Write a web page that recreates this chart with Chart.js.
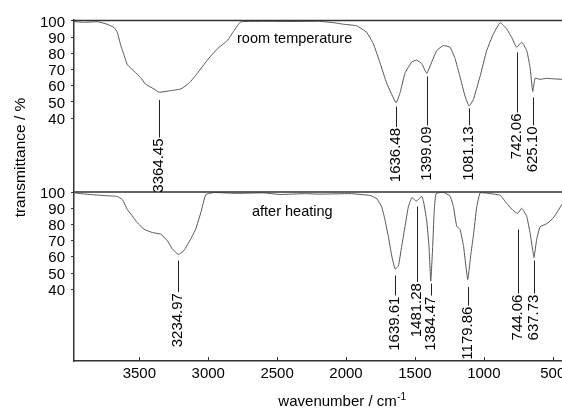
<!DOCTYPE html>
<html>
<head>
<meta charset="utf-8">
<script src="https://cdn.jsdelivr.net/npm/chart.js@4.4.1/dist/chart.umd.min.js"></script>
<style>
  html, body { margin: 0; padding: 0; background: #fff; overflow: hidden; }
  canvas { display: block; }
</style>
</head>
<body>
<canvas id="ir" width="600" height="409"></canvas>
<script>
// spectra: wavenumber (cm-1) and transmittance (%)
const roomWn = [3974, 3900, 3800, 3734, 3684, 3660, 3635, 3611, 3587, 3538, 3490, 3454, 3393, 3356, 3272, 3200, 3139, 3079, 3007, 2934, 2861, 2813, 2764, 2600, 2400, 2200, 2094, 2020, 1922, 1850, 1802, 1753, 1705, 1637, 1608, 1572, 1523, 1487, 1451, 1414, 1378, 1342, 1294, 1245, 1209, 1173, 1136, 1107, 1076, 1028, 979, 931, 882, 834, 798, 762, 725, 689, 665, 645, 628, 592, 543, 500, 433];
const roomT = [99.6, 99.2, 99.5, 98, 96, 93, 85, 79, 73, 69, 65, 61, 58, 56, 57, 58, 61.6, 67.7, 75.8, 82.8, 87.9, 94, 99.4, 99.8, 99.7, 99.8, 99, 98, 97, 93, 86, 74, 61.6, 49.5, 55.6, 67.7, 74.7, 75.8, 73.7, 67.7, 74.7, 81.8, 84.8, 83.8, 76.8, 65.6, 53.5, 47.5, 51.5, 65.6, 81.8, 91.9, 99, 95, 89.9, 83.8, 86.9, 81.8, 71.7, 56.5, 64.6, 64, 64.6, 64.3, 64];

const heatWn = [3974, 3900, 3829, 3732, 3660, 3623, 3587, 3551, 3515, 3466, 3406, 3345, 3297, 3261, 3217, 3176, 3127, 3091, 3054, 3018, 2958, 2800, 2600, 2479, 2300, 2189, 1971, 1826, 1777, 1741, 1717, 1693, 1668, 1644, 1620, 1596, 1572, 1548, 1523, 1499, 1487, 1451, 1439, 1415, 1398, 1385, 1371, 1361, 1347, 1294, 1245, 1221, 1197, 1173, 1148, 1117, 1095, 1076, 1051, 1027, 979, 882, 834, 786, 754, 725, 689, 665, 645, 636, 616, 592, 543, 496, 459, 433];
const heatT = [99.5, 98.8, 98.3, 97.7, 97.3, 95.3, 89.2, 85.2, 81.1, 77.1, 75, 74, 70, 65, 61.5, 63.9, 71, 77.1, 87.2, 98.3, 99.7, 99.2, 99.5, 98.5, 99, 98.7, 99, 97.9, 95.9, 90.8, 82.7, 72.6, 60.5, 52.5, 54.4, 66.5, 78.7, 90.8, 96.5, 95, 94.5, 97.3, 94.8, 82.7, 66.5, 45, 66.5, 86.8, 98.9, 99.9, 97.5, 91.2, 79, 77, 67, 46, 61, 73, 91, 99.5, 99.3, 98, 93, 88.5, 86.8, 90, 85, 75, 64, 59.5, 71, 78.5, 80.5, 84, 88.8, 92.5];

// marked peaks: where the marker sits on the axis, and the value printed beside it
const roomPeakWn = [3356, 1637, 1414, 1107, 762, 645];
const roomPeakText = ['3364.45', '1636.48', '1399.09', '1081.13', '742.06', '625.10'];
const heatPeakWn = [3217, 1644, 1487, 1385, 1117, 754, 636];
const heatPeakText = ['3234.97', '1639.61', '1481.28', '1384.47', '1179.86', '744.06', '637.73'];

const xTicks = [3500, 3000, 2500, 2000, 1500, 1000, 500];
const yTicks = [40, 50, 60, 70, 80, 90, 100];

// the upper spectrum is lifted by this much so both panels share one y axis
const OFFSET = 105.6;

// marker lines: start / end in px below each panel's 100 % line
const roomMarkTop = [79, 85.5, 55.5, 87.5, 31.5, 76.5];
const roomMarkEnd = [116.5, 106, 104.5, 104.5, 91.5, 104.5];
const heatMarkTop = [68.5, 83.5, 14.5, 91.5, 95, 37.5, 68.5];
const heatMarkEnd = [100, 103.5, 90, 103.5, 113.5, 101.5, 101.5];

const FONT = "'Liberation Sans', Arial, sans-serif";
const INK = '#222';

const toPoints = (wn, t, shift) => wn.map((w, i) => ({ x: w, y: t[i] + shift }));

const decor = {
    id: 'decor',
    afterDatasetsDraw(chart) {
        const { ctx, chartArea: a, scales: { x, y } } = chart;
        ctx.save();

        // frame top and the line between the panels
        ctx.strokeStyle = '#333';
        ctx.lineWidth = 1.5;
        [a.top + 0.5, y.getPixelForValue(100)].forEach(py => {
            ctx.beginPath();
            ctx.moveTo(a.left, py);
            ctx.lineTo(a.right, py);
            ctx.stroke();
        });

        // x ticks point into the plot
        ctx.lineWidth = 1;
        xTicks.forEach(v => {
            const px = Math.round(x.getPixelForValue(v)) + 0.5;
            ctx.beginPath();
            ctx.moveTo(px, a.bottom);
            ctx.lineTo(px, a.bottom - 4);
            ctx.stroke();
        });

        // peak markers with rotated values
        const marks = (wn, text, top, end, base) => {
            ctx.strokeStyle = INK;
            ctx.fillStyle = '#000';
            ctx.font = '15px ' + FONT;
            wn.forEach((w, i) => {
                const px = Math.round(x.getPixelForValue(w)) + 0.5;
                ctx.beginPath();
                ctx.moveTo(px, base + top[i]);
                ctx.lineTo(px, base + end[i]);
                ctx.stroke();
                ctx.save();
                ctx.translate(px - 1, base + end[i] + 1);
                ctx.rotate(-Math.PI / 2);
                ctx.textAlign = 'right';
                ctx.textBaseline = 'middle';
                ctx.fillText(text[i], 0, 0);
                ctx.restore();
            });
        };
        marks(roomPeakWn, roomPeakText, roomMarkTop, roomMarkEnd, y.getPixelForValue(100 + OFFSET));
        marks(heatPeakWn, heatPeakText, heatMarkTop, heatMarkEnd, y.getPixelForValue(100));

        // panel names
        ctx.fillStyle = '#000';
        ctx.font = '14.5px ' + FONT;
        ctx.textAlign = 'left';
        ctx.textBaseline = 'middle';
        ctx.fillText('room temperature', 237, 39);
        ctx.fillText('after heating', 252, 212);

        // y title, sits higher than the axis middle
        ctx.save();
        ctx.font = '15.5px ' + FONT;
        ctx.translate(20.5, 157.5);
        ctx.rotate(-Math.PI / 2);
        ctx.textAlign = 'center';
        ctx.fillText('transmittance / %', 0, 0);
        ctx.restore();

        // x title with superscript
        const main = 'wavenumber / cm';
        const sup = '-1';
        ctx.font = '15px ' + FONT;
        const wMain = ctx.measureText(main).width;
        ctx.font = '10px ' + FONT;
        const wSup = ctx.measureText(sup).width;
        const left = 342 - (wMain + wSup) / 2;
        ctx.textBaseline = 'alphabetic';
        ctx.font = '15px ' + FONT;
        ctx.fillText(main, left, 406);
        ctx.font = '10px ' + FONT;
        ctx.fillText(sup, left + wMain + 0.5, 400);

        ctx.restore();
    }
};

new Chart(document.getElementById('ir'), {
    type: 'line',
    data: {
        datasets: [
            { label: 'room temperature', data: toPoints(roomWn, roomT, OFFSET) },
            { label: 'after heating', data: toPoints(heatWn, heatT, 0) }
        ]
    },
    options: {
        responsive: false,
        animation: false,
        layout: { padding: { top: 20, right: 0, bottom: 0, left: 0 } },
        elements: {
            line: { borderColor: '#555', borderWidth: 1, tension: 0.12, fill: false },
            point: { radius: 0 }
        },
        plugins: { legend: { display: false }, tooltip: { enabled: false } },
        scales: {
            x: {
                type: 'linear',
                reverse: true,
                min: 157,
                max: 3974,
                afterBuildTicks: s => { s.ticks = xTicks.map(v => ({ value: v })); },
                afterFit: s => { s.height = 48; },
                grid: { drawOnChartArea: false, drawTicks: false },
                border: { color: '#333', width: 1.5 },
                ticks: {
                    color: '#000',
                    padding: 4,
                    maxRotation: 0,
                    font: { family: FONT, size: 15 },
                    callback: v => String(v)
                }
            },
            y: {
                min: -4.3,
                max: 206.2,
                afterBuildTicks: s => {
                    s.ticks = yTicks.concat(yTicks.map(v => v + OFFSET)).map(v => ({ value: v }));
                },
                afterFit: s => { s.width = 74; },
                grid: { drawOnChartArea: false, tickLength: 3, color: '#333' },
                border: { color: '#333', width: 1.5 },
                ticks: {
                    color: '#000',
                    padding: 6,
                    labelOffset: 1.5,
                    font: { family: FONT, size: 15 },
                    callback: v => v > 120 ? Math.round(v - OFFSET) : v
                }
            }
        }
    },
    plugins: [decor]
});
</script>
</body>
</html>
